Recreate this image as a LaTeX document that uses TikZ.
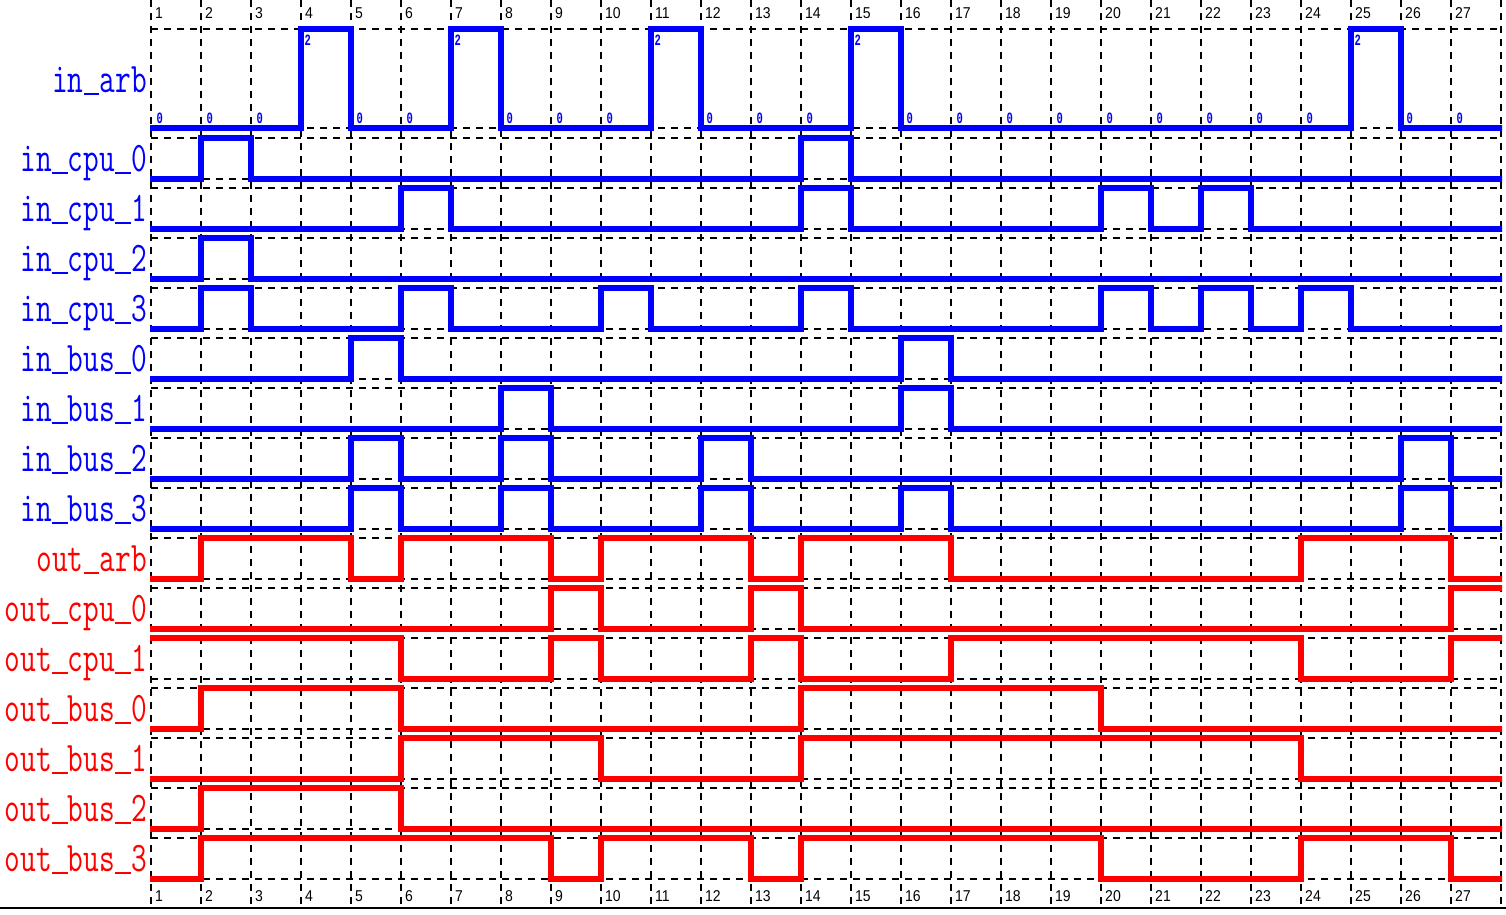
\documentclass[tikz,border=0pt]{standalone}
\usepackage{fontspec}
\newfontfamily\monof{Liberation Mono}
\newfontfamily\sansf{Liberation Sans}
\definecolor{sigblue}{RGB}{0,0,255}
\definecolor{sigred}{RGB}{255,0,0}
\newcommand\usc{\makebox[0.525em]{\rule[-0.08em]{0.5em}{0.05em}}}
\tikzset{
  griddash/.style={black, line width=1.8pt, dash pattern=on 7pt off 6pt},
  wire/.style={line width=5.5pt, line cap=rect},
  namelbl/.style={anchor=base east, inner sep=0pt, font=\ttfamily\fontsize{30.5}{32}\selectfont},
  numlbl/.style={anchor=base west, inner sep=0pt, font=\sansf\fontsize{14}{14}\selectfont},
  vallbl/.style={anchor=base west, inner sep=0pt, text=sigblue, font=\monof\bfseries\fontsize{10.5}{10.5}\selectfont},
}
\newcommand\wavedraw[4]{%
  \foreach \b [count=\k, remember=\b as \pb (initially 9)] in {#4} {
    \pgfmathsetmacro\yy{\b==1 ? #1 : #2}
    \draw[wire,#3] ({151+50*(\k-1)},\yy) -- ({151+50*\k},\yy);
    \ifnum\pb<9 \ifnum\pb=\b\else
      \draw[wire,#3] ({151+50*(\k-1)},#1) -- ({151+50*(\k-1)},#2);
    \fi\fi
  }}
\begin{document}
\begin{tikzpicture}[x=1pt,y=-1pt]
\useasboundingbox (0,0) rectangle (1506,914);
\fill[white] (0,0) rectangle (1506,914);
% grid
\foreach \k in {0,...,27}
  \draw[griddash] ({151+50*\k},0) -- ({151+50*\k},905);
\draw[griddash] (151,29) -- (1501,29);
\draw[griddash] (151,128) -- (1501,128);
\foreach \i in {0,...,14} {
  \draw[griddash] (151,{138+50*\i}) -- (1501,{138+50*\i});
  \draw[griddash] (151,{179+50*\i}) -- (1501,{179+50*\i});
}
% cycle numbers
\foreach \k in {1,...,27} {
  \node[numlbl] (top\k) at ({151+50*(\k-1)+4},18.5) {\scalebox{1}[1.12]{\k}};
  \node[numlbl] (bot\k) at ({151+50*(\k-1)+4},901) {\scalebox{1}[1.12]{\k}};
}
% bottom rule
\draw[black, line width=2.5pt] (0,908) -- (1506,908);
% waveforms
\begin{scope}
\clip (150,0) rectangle (1502,914);
\wavedraw{29}{128}{sigblue}{0,0,0,1,0,0,1,0,0,0,1,0,0,0,1,0,0,0,0,0,0,0,0,0,1,0,0}
\wavedraw{138}{179}{sigblue}{0,1,0,0,0,0,0,0,0,0,0,0,0,1,0,0,0,0,0,0,0,0,0,0,0,0,0}
\wavedraw{188}{229}{sigblue}{0,0,0,0,0,1,0,0,0,0,0,0,0,1,0,0,0,0,0,1,0,1,0,0,0,0,0}
\wavedraw{238}{279}{sigblue}{0,1,0,0,0,0,0,0,0,0,0,0,0,0,0,0,0,0,0,0,0,0,0,0,0,0,0}
\wavedraw{288}{329}{sigblue}{0,1,0,0,0,1,0,0,0,1,0,0,0,1,0,0,0,0,0,1,0,1,0,1,0,0,0}
\wavedraw{338}{379}{sigblue}{0,0,0,0,1,0,0,0,0,0,0,0,0,0,0,1,0,0,0,0,0,0,0,0,0,0,0}
\wavedraw{388}{429}{sigblue}{0,0,0,0,0,0,0,1,0,0,0,0,0,0,0,1,0,0,0,0,0,0,0,0,0,0,0}
\wavedraw{438}{479}{sigblue}{0,0,0,0,1,0,0,1,0,0,0,1,0,0,0,0,0,0,0,0,0,0,0,0,0,1,0}
\wavedraw{488}{529}{sigblue}{0,0,0,0,1,0,0,1,0,0,0,1,0,0,0,1,0,0,0,0,0,0,0,0,0,1,0}
\wavedraw{538}{579}{sigred}{0,1,1,1,0,1,1,1,0,1,1,1,0,1,1,1,0,0,0,0,0,0,0,1,1,1,0}
\wavedraw{588}{629}{sigred}{0,0,0,0,0,0,0,0,1,0,0,0,1,0,0,0,0,0,0,0,0,0,0,0,0,0,1}
\wavedraw{638}{679}{sigred}{1,1,1,1,1,0,0,0,1,0,0,0,1,0,0,0,1,1,1,1,1,1,1,0,0,0,1}
\wavedraw{688}{729}{sigred}{0,1,1,1,1,0,0,0,0,0,0,0,0,1,1,1,1,1,1,0,0,0,0,0,0,0,0}
\wavedraw{738}{779}{sigred}{0,0,0,0,0,1,1,1,1,0,0,0,0,1,1,1,1,1,1,1,1,1,1,0,0,0,0}
\wavedraw{788}{829}{sigred}{0,1,1,1,1,0,0,0,0,0,0,0,0,0,0,0,0,0,0,0,0,0,0,0,0,0,0}
\wavedraw{838}{879}{sigred}{0,1,1,1,1,1,1,1,0,1,1,1,0,1,1,1,1,1,1,0,0,0,0,1,1,1,0}
\end{scope}
% in_arb values
\foreach \b [count=\k] in {0,0,0,1,0,0,1,0,0,0,1,0,0,0,1,0,0,0,0,0,0,0,0,0,1,0,0} {
  \ifnum\b=1
    \node[vallbl] (val\k) at ({151+50*(\k-1)+3.5},45) {\scalebox{1}[1.5]{2}};
  \else
    \node[vallbl] (val\k) at ({151+50*(\k-1)+5.5},123) {\scalebox{1}[1.5]{0}};
  \fi
}
% signal names
\node[namelbl, text=sigblue] (n0) at (147,92) {\scalebox{1}[1.38]{in\usc arb}};
\foreach \t [count=\i from 0] in {in\usc cpu\usc 0,in\usc cpu\usc 1,in\usc cpu\usc 2,in\usc cpu\usc 3,in\usc bus\usc 0,in\usc bus\usc 1,in\usc bus\usc 2,in\usc bus\usc 3}
  \node[namelbl, text=sigblue] (nb\i) at (147,{138+50*\i+33}) {\scalebox{1}[1.38]{\t}};
\foreach \t [count=\i from 8] in {out\usc arb,out\usc cpu\usc 0,out\usc cpu\usc 1,out\usc bus\usc 0,out\usc bus\usc 1,out\usc bus\usc 2,out\usc bus\usc 3}
  \node[namelbl, text=sigred] (nr\i) at (147,{138+50*\i+33}) {\scalebox{1}[1.38]{\t}};
\end{tikzpicture}
\end{document}
